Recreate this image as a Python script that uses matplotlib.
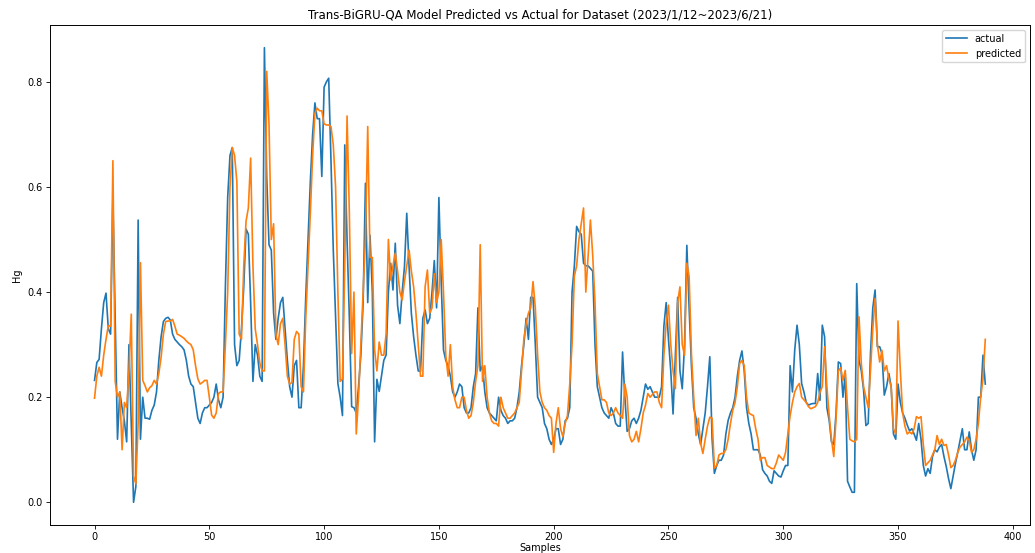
import matplotlib
matplotlib.use("Agg")
import matplotlib.pyplot as plt

# valores (Hg), amostra 0..388
actual = [
    .232, .266, .272, .33, .38, .398, .33, .32, .58, .35,
    .12, .21, .18, .155, .115, .30, .15, .0, .03, .537,
    .12, .20, .16, .16, .158, .175, .185, .21, .27, .315,
    .344, .35, .352, .347, .32, .31, .305, .30, .296, .29,
    .27, .24, .225, .22, .19, .16, .15, .17, .18, .18,
    .185, .19, .20, .225, .195, .18, .20, .41, .58, .66,
    .675, .30, .26, .27, .33, .41, .52, .51, .38, .23,
    .30, .28, .24, .23, .865, .62, .49, .48, .36, .31,
    .35, .38, .39, .33, .27, .22, .20, .26, .27, .18,
    .18, .26, .39, .50, .61, .70, .76, .73, .73, .62,
    .79, .80, .807, .65, .48, .35, .226, .20, .165, .68,
    .50, .35, .182, .18, .17, .22, .28, .38, .607, .38,
    .508, .40, .115, .234, .211, .24, .27, .28, .40, .455,
    .404, .493, .375, .34, .40, .448, .55, .45, .36, .315,
    .28, .25, .249, .35, .366, .34, .35, .40, .46, .37,
    .58, .42, .29, .27, .26, .24, .21, .20, .21, .225,
    .22, .18, .17, .17, .18, .22, .245, .37, .25, .26,
    .21, .18, .17, .165, .16, .155, .20, .175, .165, .16,
    .15, .155, .155, .16, .18, .21, .26, .30, .35, .31,
    .39, .39, .30, .20, .19, .18, .15, .14, .12, .11,
    .12, .14, .14, .11, .12, .155, .16, .18, .40, .45,
    .525, .515, .51, .455, .45, .45, .445, .44, .30, .22,
    .20, .18, .17, .165, .16, .18, .17, .15, .145, .145,
    .286, .20, .135, .14, .155, .16, .15, .16, .175, .20,
    .225, .215, .22, .21, .20, .20, .20, .22, .335, .38,
    .31, .25, .168, .28, .39, .25, .216, .30, .489, .37,
    .26, .18, .16, .13, .11, .14, .17, .22, .277, .12,
    .055, .07, .08, .08, .09, .13, .156, .17, .18, .20,
    .24, .27, .288, .25, .18, .15, .13, .10, .10, .10,
    .09, .062, .055, .05, .04, .036, .06, .055, .05, .048,
    .06, .07, .07, .26, .21, .29, .337, .30, .226, .21,
    .19, .185, .187, .188, .188, .245, .194, .337, .315, .18,
    .156, .115, .11, .17, .267, .264, .20, .245, .04, .029,
    .019, .019, .416, .27, .25, .213, .146, .15, .283, .37,
    .404, .296, .296, .283, .204, .22, .245, .22, .13, .12,
    .225, .19, .17, .16, .147, .136, .14, .13, .118, .15,
    .12, .07, .05, .064, .055, .087, .10, .096, .105, .11,
    .087, .068, .045, .026, .05, .074, .095, .118, .14, .10,
    .10, .134, .10, .08, .10, .20, .20, .28, .225,
]

predicted = [
    .198, .24, .257, .24, .28, .31, .336, .335, .65, .23,
    .20, .21, .10, .19, .18, .25, .358, .05, .035, .15,
    .456, .232, .222, .21, .218, .222, .232, .225, .245, .276,
    .32, .344, .345, .345, .348, .335, .32, .318, .315, .312,
    .307, .303, .30, .29, .26, .235, .225, .228, .232, .232,
    .20, .166, .16, .17, .207, .21, .21, .30, .40, .60,
    .675, .66, .61, .32, .31, .45, .535, .56, .655, .45,
    .33, .30, .265, .25, .25, .82, .72, .50, .53, .32,
    .30, .34, .35, .30, .24, .225, .228, .31, .325, .32,
    .22, .21, .35, .45, .55, .66, .74, .75, .745, .745,
    .72, .718, .718, .715, .68, .60, .40, .23, .235, .45,
    .735, .55, .283, .40, .13, .20, .30, .40, .50, .715,
    .466, .466, .29, .25, .305, .28, .28, .32, .50, .423,
    .45, .474, .44, .40, .385, .42, .45, .48, .44, .41,
    .36, .30, .24, .24, .41, .442, .36, .37, .435, .38,
    .40, .50, .40, .28, .24, .30, .22, .195, .18, .18,
    .20, .20, .175, .16, .165, .19, .23, .26, .49, .23,
    .26, .20, .17, .155, .15, .15, .145, .20, .18, .17,
    .16, .16, .165, .17, .18, .19, .25, .31, .34, .36,
    .37, .42, .37, .28, .21, .19, .18, .175, .165, .16,
    .095, .15, .18, .14, .125, .15, .165, .225, .30, .43,
    .45, .50, .53, .56, .40, .47, .537, .47, .38, .245,
    .22, .195, .195, .19, .17, .165, .17, .18, .17, .165,
    .16, .225, .20, .127, .115, .12, .135, .115, .14, .17,
    .185, .207, .20, .205, .21, .21, .19, .18, .28, .34,
    .375, .30, .25, .216, .38, .41, .30, .28, .455, .43,
    .283, .20, .127, .16, .112, .093, .12, .145, .162, .16,
    .065, .07, .09, .093, .093, .10, .12, .15, .175, .19,
    .22, .264, .27, .26, .20, .17, .167, .165, .14, .12,
    .08, .085, .085, .07, .067, .064, .064, .075, .09, .085,
    .08, .095, .13, .165, .19, .21, .22, .226, .20, .195,
    .19, .182, .178, .18, .182, .19, .21, .22, .296, .22,
    .165, .12, .087, .16, .25, .256, .232, .251, .18, .12,
    .117, .115, .12, .353, .264, .22, .20, .18, .251, .33,
    .388, .30, .267, .289, .25, .26, .235, .22, .14, .13,
    .345, .25, .17, .145, .13, .134, .13, .14, .163, .16,
    .163, .11, .07, .075, .08, .09, .10, .127, .11, .12,
    .108, .11, .09, .066, .07, .08, .095, .105, .11, .115,
    .124, .118, .095, .10, .12, .15, .20, .235, .31,
]

titulo = "Trans-BiGRU-QA Model Predicted vs Actual for Dataset (2023/1/12~2023/6/21)"

fig = plt.figure(figsize=(10.35, 5.53), dpi=100)
ax = fig.add_axes([0.0483, 0.0506, 0.9467, 0.9042])

ax.plot(range(len(actual)), actual, color="#1f77b4", linewidth=1.2, label="actual")
ax.plot(range(len(predicted)), predicted, color="#ff7f0e", linewidth=1.2, label="predicted")

ax.set_title(titulo, fontsize=8.5, pad=5)
ax.set_xlabel("Samples", fontsize=7, labelpad=1)
ax.set_ylabel("Hg", fontsize=7, labelpad=4)
ax.tick_params(labelsize=7, length=3, width=0.6, pad=2)
for s in ax.spines.values():
    s.set_linewidth(0.7)

ax.legend(loc="upper right", fontsize=7, handlelength=2.2)

fig.savefig("out.png", dpi=100)
